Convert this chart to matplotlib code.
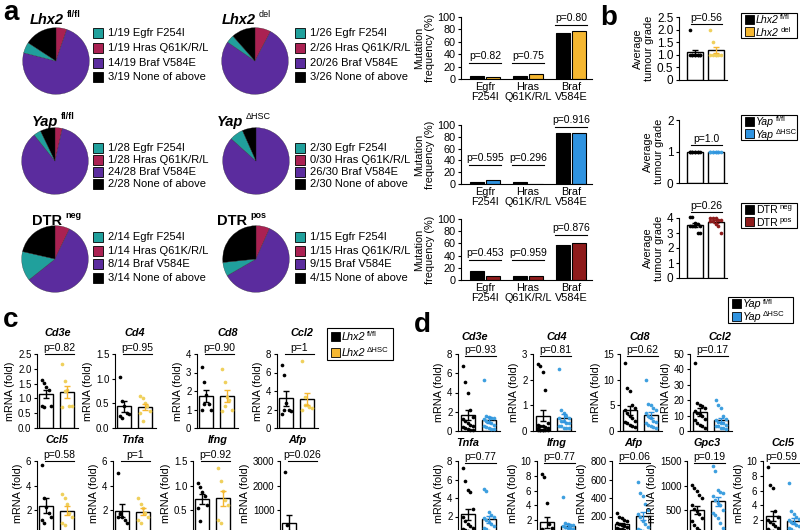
import numpy as np
import matplotlib
matplotlib.use('Agg')
from matplotlib import pyplot as plt
from matplotlib.patches import Rectangle

plt.rcParams['font.family'] = ['Liberation Sans', 'DejaVu Sans']
plt.rcParams['axes.linewidth'] = 0.8

# ---------------- data ----------------
mut_names = ['Egfr F254I', 'Hras Q61K/R/L', 'Braf V584E', 'None of above']
mut_ticks = ['Egfr\nF254I', 'Hras\nQ61K/R/L', 'Braf\nV584E']

# mutation counts: Egfr, Hras, Braf, none
lhx2_ff = [1, 1, 14, 3]
lhx2_del = [1, 2, 20, 3]
yap_ff = [1, 1, 24, 2]
yap_hsc = [2, 0, 26, 2]
dtr_neg = [2, 1, 8, 3]
dtr_pos = [1, 1, 9, 4]

p_lhx2 = ['0.82', '0.75', '0.80']
p_yap = ['0.595', '0.296', '0.916']
p_dtr = ['0.453', '0.959', '0.876']
ph_lhx2 = [26, 26, 87]
ph_yap = [32, 32, 97]
ph_dtr = [33, 33, 74]

# average tumour grade
grade_lhx2_ff = [2.0, 1, 1, 1, 1, 1, 1, 1, 1, 1]
grade_lhx2_del = [2.0, 1.5, 1, 1, 1, 1, 1, 1]
grade_yap_ff = [1, 1, 1, 1, 1, 1, 1, 1, 1]
grade_yap_hsc = [1, 1, 1, 1, 1, 1, 1, 1, 1]
grade_dtr_neg = [4.1, 4.1, 3.7, 3.6, 3.5, 3.5, 3.5, 3.5, 3.0, 3.0]
grade_dtr_pos = [4.0, 4.0, 4.0, 3.9, 3.9, 3.8, 3.8, 3.6, 3.5, 3.0]

# panel c (Lhx2 fl/fl vs Lhx2 dHSC)
c_genes = ['Cd3e', 'Cd4', 'Cd8', 'Ccl2', 'Ccl5', 'Tnfa', 'Ifng', 'Afp']
c_p = ['0.82', '0.95', '0.90', '1', '0.58', '1', '0.92', '0.026']
c_ff = [
    [1.62, 1.52, 1.38, 1.30, 0.75, 0.75, 0.72],
    [1.03, 0.55, 0.45, 0.30, 0.28, 0.25, 0.20],
    [3.3, 2.5, 1.8, 1.3, 1.0, 1.0, 1.3],
    [6.8, 5.7, 2.7, 2.0, 1.8, 1.5, 2.0],
    [5.7, 3.0, 2.3, 1.8, 1.5, 1.2, 1.0],
    [5.0, 1.8, 1.5, 1.2, 1.0, 1.5, 1.7],
    [1.05, 0.98, 0.88, 0.80, 0.60, 0.55, 0.28],
    [2550, 400, 150, 100, 50, 40, 30],
]
c_hsc = [
    [2.15, 1.60, 1.30, 0.75, 0.75, 0.72, 1.25],
    [0.65, 0.60, 0.50, 0.45, 0.35, 0.30, 0.15],
    [3.2, 2.5, 1.7, 1.5, 1.0, 0.9, 1.2],
    [7.2, 3.3, 2.5, 2.3, 2.2, 2.0, 2.5],
    [3.3, 3.0, 2.5, 1.8, 1.5, 1.0, 0.8],
    [3.0, 2.5, 2.2, 1.8, 1.5, 1.2, 1.0],
    [1.35, 1.10, 0.90, 0.70, 0.60, 0.30, 0.25],
    [20, 15, 10, 10, 8, 5, 5],
]
c_ymax = [2.5, 1.5, 4, 8, 6, 6, 1.5, 3000]
c_ystep = [0.5, 0.5, 1, 2, 2, 2, 0.5, 1000]

# panel d (Yap fl/fl vs Yap dHSC)
d_genes = ['Cd3e', 'Cd4', 'Cd8', 'Ccl2', 'Tnfa', 'Ifng', 'Afp', 'Gpc3', 'Ccl5']
d_p = ['0.93', '0.81', '0.62', '0.17', '0.77', '0.77', '0.06', '0.19', '0.59']
d_ff = [
    [6.8, 5.1, 3.9, 2.2, 1.5, 1.2, 1.0, 0.8, 0.6, 0.5, 0.4, 0.3, 0.2, 0.1, 0.1],
    [2.6, 2.55, 2.3, 1.6, 0.3, 0.25, 0.2, 0.2, 0.15, 0.1, 0.1, 0.05, 0.05, 0.05, 0.05, 0.05, 0.05, 0.05],
    [13.3, 8.3, 7.8, 5.0, 4.5, 4.0, 3.5, 3.0, 2.5, 2.0, 1.8, 1.5, 1.2, 1.0, 0.8],
    [44, 18, 17, 16, 15, 13, 12, 11, 10, 8, 7, 5, 4, 3, 2],
    [7.2, 5.8, 4.9, 4.7, 2.8, 2.0, 1.5, 1.2, 1.0, 0.8, 0.6, 0.5, 0.4, 0.3, 0.2],
    [8.3, 7.8, 4.3, 1.5, 1.0, 0.8, 0.5, 0.4, 0.3, 0.2, 0.2, 0.1, 0.1, 0.1, 0.1],
    [240, 200, 180, 160, 150, 130, 120, 110, 100, 90, 80, 70, 60, 50, 40],
    [1020, 960, 900, 820, 760, 600, 520, 480, 420, 350, 280, 200, 150, 100, 60],
    [9.2, 6.7, 6.4, 3.2, 2.5, 2.0, 1.8, 1.5, 1.2, 1.0, 0.8, 0.6, 0.5, 0.4, 0.3],
]
d_hsc = [
    [5.3, 1.6, 1.5, 1.4, 1.3, 1.2, 1.0, 0.9, 0.8, 0.6, 0.5, 0.4, 0.3, 0.2, 0.2],
    [2.4, 0.8, 0.7, 0.6, 0.5, 0.5, 0.4, 0.4, 0.3, 0.3, 0.2, 0.2, 0.1, 0.1, 0.1],
    [10.0, 5.3, 5.0, 4.5, 4.0, 3.5, 3.0, 2.5, 2.0, 1.8, 1.5, 1.2, 1.0, 0.8, 0.6],
    [20, 17, 15, 10, 8, 7, 6, 5, 5, 4, 3, 3, 2, 2, 1],
    [5.0, 4.8, 2.5, 2.2, 2.0, 1.8, 1.6, 1.4, 1.2, 1.0, 0.8, 0.6, 0.4, 0.3, 0.2],
    [5.2, 1.6, 1.5, 1.4, 1.3, 1.2, 1.1, 1.0, 0.9, 0.8, 0.6, 0.5, 0.4, 0.3, 0.2],
    [570, 450, 420, 340, 270, 230, 200, 150, 120, 90, 70, 50, 40, 30, 20],
    [1400, 1300, 920, 880, 850, 800, 700, 650, 600, 500, 450, 400, 350, 250, 150],
    [7.0, 3.2, 2.8, 2.5, 2.2, 2.0, 1.8, 1.6, 1.4, 1.2, 1.0, 0.8, 0.6, 0.4, 0.3],
]
d_ymax = [8, 3, 15, 50, 8, 10, 800, 1500, 10]
d_ystep = [2, 1, 5, 10, 2, 2, 200, 500, 2]

# ---------------- colours ----------------
TEAL = '#20a09c'
MAGENTA = '#aa2152'
PURPLE = '#5b2c9e'
GOLD = '#f5b731'
GOLD_DOT = '#efd05c'
BLUE = '#2f93e0'
BLUE_DOT = '#3d9fdf'
DARKRED = '#8e1b1b'
pie_colors = [TEAL, MAGENTA, PURPLE, 'black']

W, H = 800, 530
fig = plt.figure(figsize=(8, 5.3), dpi=100)
R = fig.canvas.get_renderer()


def px_axes(x0, y0, x1, y1):
    return fig.add_axes([x0 / W, 1 - y1 / H, (x1 - x0) / W, (y1 - y0) / H])


ov = fig.add_axes([0, 0, 1, 1], zorder=10)
ov.set_xlim(0, W)
ov.set_ylim(H, 0)
ov.axis('off')


def sup_label(x, ybase, main, sup, fs, sup_fs, weight='normal', style='italic',
              sup_weight='normal', gap=1.5, rise=None):
    # main text + small superscript drawn as two texts
    t = ov.text(x, ybase, main, fontsize=fs, fontweight=weight, fontstyle=style,
                ha='left', va='baseline')
    bb = t.get_window_extent(renderer=R)
    if rise is None:
        rise = fs * 0.55
    ov.text(bb.x1 + gap, ybase - rise, sup, fontsize=sup_fs, fontweight=sup_weight,
            ha='left', va='baseline')


# ---------------- panel a: pies ----------------
def draw_pie(cx, cy, counts, title, tx, ty, lx, rows):
    r = 34
    ax = px_axes(cx - r, cy - r, cx + r, cy + r)
    order = [1, 2, 0, 3]
    ax.pie([counts[i] for i in order], colors=[pie_colors[i] for i in order],
           startangle=90, counterclock=False,
           wedgeprops=dict(edgecolor='#222222', linewidth=0.2))
    ax.set_xlim(-1.02, 1.02)
    ax.set_ylim(-1.02, 1.02)
    main, sup, italic, sup_bold = title
    sup_label(tx, ty + 5, main, sup, 10.5, 6.5, weight='bold',
              style='italic' if italic else 'normal',
              sup_weight='bold' if sup_bold else 'normal', gap=3, rise=7)
    total = sum(counts)
    for k, (c, name) in enumerate(zip(counts, mut_names)):
        ov.add_patch(Rectangle((lx, rows[k] - 5), 10, 10, facecolor=pie_colors[k],
                               edgecolor='black', lw=0.6))
        ov.text(lx + 15, rows[k], f'{c}/{total} {name}', fontsize=8,
                ha='left', va='center')


rows1 = [33, 48, 63, 77]
rows2 = [148, 160, 172, 184]
rows3 = [237, 251, 264, 278]
draw_pie(56, 61, lhx2_ff, ('Lhx2', 'fl/fl', True, True), 30, 19, 93, rows1)
draw_pie(255, 61, lhx2_del, ('Lhx2', 'del', True, False), 222, 19, 295, rows1)
draw_pie(55, 161, yap_ff, ('Yap', 'fl/fl', True, True), 32, 121, 93, rows2)
draw_pie(256, 161, yap_hsc, ('Yap', '\u0394HSC', True, False), 217, 121, 295, rows2)
draw_pie(55, 259, dtr_neg, ('DTR', 'neg', False, True), 32, 220, 93, rows3)
draw_pie(256, 259, dtr_pos, ('DTR', 'pos', False, True), 217, 220, 295, rows3)


# ---------------- panel a: mutation frequency bars ----------------
def mut_bars(y0, y1, a, b, col, pvals, pheights):
    ax = px_axes(461, y0, 592, y1)
    x = np.arange(3)
    fa = np.array(a[:3]) / sum(a) * 100
    fb = np.array(b[:3]) / sum(b) * 100
    ax.bar(x - 0.19, fa, 0.33, color='black', edgecolor='black', lw=0.8)
    ax.bar(x + 0.19, fb, 0.33, color=col, edgecolor='black', lw=0.8)
    ax.set_xlim(-0.56, 2.49)
    ax.set_ylim(0, 100)
    ax.set_yticks(range(0, 101, 20))
    ax.set_xticks(x)
    ax.set_xticklabels(mut_ticks, fontsize=7.8, linespacing=1.0)
    ax.tick_params(axis='x', length=0, pad=2)
    ax.tick_params(axis='y', length=2.5, width=0.8, pad=1.5, labelsize=7.8)
    for s in ['top', 'right']:
        ax.spines[s].set_visible(False)
    ax.set_ylabel('Mutation\nfrequency (%)', fontsize=7.8, labelpad=2, linespacing=1.1)
    for xi, p, h in zip(x, pvals, pheights):
        ax.plot([xi - 0.38, xi + 0.38], [h, h], color='black', lw=0.8, clip_on=False)
        ax.text(xi, h + 3, 'p=' + p, ha='center', va='bottom', fontsize=7.5, clip_on=False)


mut_bars(17, 79, lhx2_ff, lhx2_del, GOLD, p_lhx2, ph_lhx2)
mut_bars(125, 184, yap_ff, yap_hsc, BLUE, p_yap, ph_yap)
mut_bars(219, 280, dtr_neg, dtr_pos, DARKRED, p_dtr, ph_dtr)


# ---------------- dot + bar helper (b, c, d) ----------------
def dot_bars(ax, g1, g2, col_dot, col_err, ymax, ticks, ticklabels, p, ph,
             xlim, width, fs_tick, pline, ptext_x):
    for i, (vals, dc, ec) in enumerate([(g1, 'black', 'black'), (g2, col_dot, col_err)]):
        vals = np.asarray(vals, float)
        m = vals.mean()
        sem = vals.std(ddof=1) / np.sqrt(len(vals))
        ax.bar(i, m, width, facecolor='white', edgecolor='black', lw=1.0, zorder=1)
        n = len(vals)
        off = ((np.arange(n) % 5) - 2) * width * 0.17
        ax.scatter(i + off, vals, s=7, color=dc, zorder=3, linewidths=0, clip_on=False)
        ax.errorbar(i, m, yerr=sem, color=ec, capsize=2.5, lw=1.0, capthick=1.0, zorder=4)
    ax.set_xlim(*xlim)
    ax.set_ylim(0, ymax)
    ax.set_xticks([])
    ax.set_yticks(ticks)
    ax.set_yticklabels(ticklabels)
    ax.tick_params(axis='y', length=2.5, width=0.8, pad=1.5, labelsize=fs_tick)
    for s in ['top', 'right']:
        ax.spines[s].set_visible(False)
    ax.plot(pline, [ph, ph], color='black', lw=0.8, clip_on=False, zorder=5)
    ax.annotate('p=' + p, (ptext_x, ph), xytext=(0, 0.8), textcoords='offset points',
                ha='center', va='bottom', fontsize=7.5, annotation_clip=False)


# ---------------- panel b ----------------
b_axes = [(17, 80), (120, 183), (218, 278)]
b_groups = [(grade_lhx2_ff, grade_lhx2_del, GOLD_DOT, GOLD),
            (grade_yap_ff, grade_yap_hsc, BLUE_DOT, BLUE),
            (grade_dtr_neg, grade_dtr_pos, DARKRED, DARKRED)]
b_ymax = [2.5, 2, 4]
b_ticks = [[0, 0.5, 1.0, 1.5, 2.0, 2.5], [0, 1, 2], [0, 1, 2, 3, 4]]
b_ticklabels = [['0', '0.5', '1.0', '1.5', '2.0', '2.5'], ['0', '1', '2'], ['0', '1', '2', '3', '4']]
b_p = ['0.56', '1.0', '0.26']
b_ph = [2.22, 1.2, 4.4]
for (y0, y1), (g1, g2, dc, ec), ym, tk, tl, p, ph in zip(b_axes, b_groups, b_ymax, b_ticks,
                                                         b_ticklabels, b_p, b_ph):
    ax = px_axes(679, y0, 727, y1)
    dot_bars(ax, g1, g2, dc, ec, ym, tk, tl, p, ph, (-0.78, 1.56), 0.78, 8.5,
             [-0.2, 1.3], 0.55)
    ax.set_ylabel('Average\ntumour grade', fontsize=7.8, labelpad=2, linespacing=1.1)


def legend_box(x0, y0, x1, y1, entries, fs=7.8, italic=True):
    ov.add_patch(Rectangle((x0, y0), x1 - x0, y1 - y0, fill=False, edgecolor='black', lw=0.8))
    rowh = (y1 - y0) / len(entries)
    for k, (col, main, sup) in enumerate(entries):
        cy = y0 + rowh * (k + 0.5)
        ov.add_patch(Rectangle((x0 + 4, cy - 4.5), 9, 9, facecolor=col, edgecolor='black', lw=0.6))
        sup_label(x0 + 15, cy + fs * 0.5, main, sup, fs, fs * 0.72,
                  style='italic' if italic else 'normal', gap=1.5, rise=fs * 0.5)


legend_box(741, 13, 797, 38, [('black', 'Lhx2', 'fl/fl'), (GOLD, 'Lhx2', 'del')], fs=7.6)
legend_box(741, 115, 797, 140, [('black', 'Yap', 'fl/fl'), (BLUE, 'Yap', '\u0394HSC')], fs=7.6)
legend_box(741, 203, 797, 228, [('black', 'DTR', 'neg'), (DARKRED, 'DTR', 'pos')],
           fs=7.6, italic=False)


def tick_set(ymax, step, cropped=False):
    ticks = np.arange(0, ymax + step / 2, step)
    if step < 1:
        labels = [f'{t:.1f}' for t in ticks]
    else:
        labels = [f'{t:g}' for t in ticks]
    if cropped:
        # the zero label falls below the bottom edge of the figure
        labels[0] = ''
    return ticks, labels


# ---------------- panel c ----------------
c_left = [37, 115, 197, 277, 37, 113, 193, 280]
c_top = [354, 354, 354, 354, 461, 461, 461, 461]
c_bot = [428, 428, 428, 428, 535, 535, 535, 535]
c_tx = [58, 135, 228, 302, 57, 133, 218, 297]
c_ty = [333, 333, 333, 333, 440, 440, 440, 440]
for k, g in enumerate(c_genes):
    ax = px_axes(c_left[k], c_top[k], c_left[k] + 41, c_bot[k])
    tk, tl = tick_set(c_ymax[k], c_ystep[k], c_bot[k] > H)
    dot_bars(ax, c_ff[k], c_hsc[k], GOLD_DOT, GOLD, c_ymax[k], tk, tl, c_p[k], c_ymax[k],
             (-0.46, 1.54), 0.68, 7, [-0.07, 1.34], 0.64)
    ax.set_ylabel('mRNA (fold)', fontsize=7.8, labelpad=2)
    if c_bot[k] > H:
        ax.yaxis.label.set_y(0.57)
    ov.text(c_tx[k], c_ty[k], g, fontsize=7.8, fontweight='bold', fontstyle='italic',
            ha='center', va='center')
legend_box(327, 328, 393, 360, [('black', 'Lhx2', 'fl/fl'), (GOLD, 'Lhx2', '\u0394HSC')])

# ---------------- panel d ----------------
d_left = [458, 533, 620, 690, 458, 537, 612, 687, 763]
d_top = [354, 354, 354, 354, 461, 461, 461, 461, 461]
d_bot = [431, 431, 431, 431, 535, 535, 535, 535, 535]
d_tx = [475, 557, 640, 720, 468, 557, 633, 707, 783]
d_ty = [337, 337, 337, 337, 443, 443, 443, 443, 443]
d_ptx = [0.62, 0.62, 0.62, 0.62, 0.62, 0.62, 0.62, 0.62, 0.42]
for k, g in enumerate(d_genes):
    ax = px_axes(d_left[k], d_top[k], d_left[k] + 42, d_bot[k])
    tk, tl = tick_set(d_ymax[k], d_ystep[k], d_bot[k] > H)
    dot_bars(ax, d_ff[k], d_hsc[k], BLUE_DOT, BLUE, d_ymax[k], tk, tl, d_p[k],
             d_ymax[k] * 0.97, (-0.46, 1.54), 0.68, 7, [-0.15, 1.35], d_ptx[k])
    ax.set_ylabel('mRNA (fold)', fontsize=7.8, labelpad=2)
    if d_bot[k] > H:
        ax.yaxis.label.set_y(0.57)
    ov.text(d_tx[k], d_ty[k], g, fontsize=7.8, fontweight='bold', fontstyle='italic',
            ha='center', va='center')
legend_box(728, 297, 793, 323, [('black', 'Yap', 'fl/fl'), (BLUE, 'Yap', '\u0394HSC')])

# ---------------- panel letters ----------------
for letter, x, y in [('a', 3, 20), ('b', 600, 25), ('c', 3, 327), ('d', 414, 332)]:
    ov.text(x, y, letter, fontsize=20, fontweight='bold', ha='left', va='baseline')

fig.savefig('out.png', dpi=100)
